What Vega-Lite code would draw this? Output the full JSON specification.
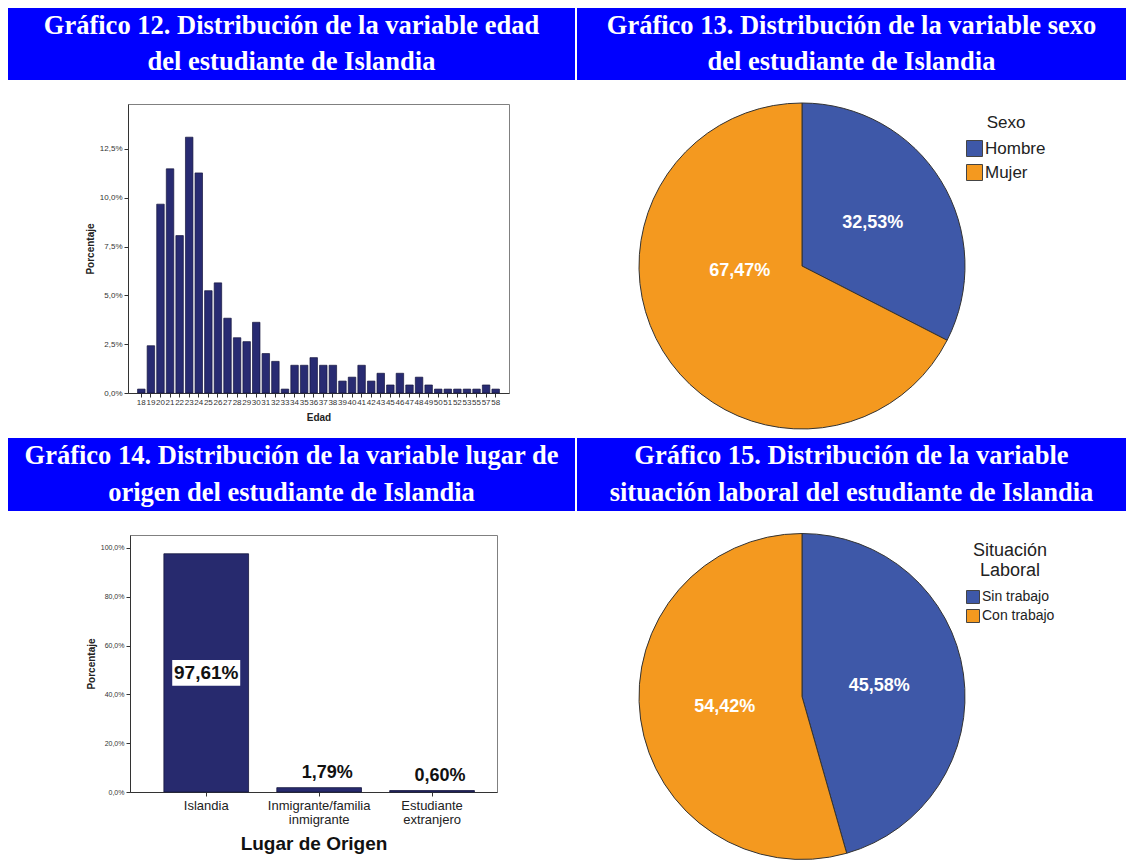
{
  "$schema": "https://vega.github.io/schema/vega-lite/v6.json",
  "background": "white",
  "padding": {"left": 8, "top": 8, "right": 0, "bottom": 0},
  "spacing": 1,
  "resolve": {"scale": {"color": "independent", "theta": "independent"}, "legend": {"color": "independent"}},
  "config": {"font": "Liberation Sans", "view": {"stroke": null}, "axis": {"grid": false}, "legend": {"padding": 0}},
  "vconcat": [
    {
      "spacing": 2,
      "resolve": {"scale": {"color": "independent", "theta": "independent"}, "legend": {"color": "independent"}},
      "hconcat": [
        {
          "spacing": 23,
          "vconcat": [
            {
              "width": 567, "height": 72,
              "view": {"fill": "#0000FF", "stroke": null},
              "data": {"values": [
                {"linea": 1, "texto": "Gráfico 12. Distribución de la variable edad"},
                {"linea": 2, "texto": "del estudiante de Islandia"}
              ]},
              "mark": {"type": "text", "font": "Liberation Serif", "fontSize": 26.5, "fontWeight": "bold", "fill": "white", "baseline": "middle"},
              "encoding": {"y": {"field": "linea", "type": "ordinal", "axis": null}, "text": {"field": "texto"}}
            },
            {
              "spacing": 0,
              "hconcat": [
                {"width": 76, "height": 10, "data": {"values": []}, "mark": {"type": "text"}},
                {
                  "width": 381, "height": 289,
                  "view": {"fill": "white", "stroke": "#808080", "strokeWidth": 1},
                  "data": {"values": [
                    {"edad": 18, "pct": 0.2}, {"edad": 19, "pct": 2.42}, {"edad": 20, "pct": 9.67}, {"edad": 21, "pct": 11.48},
                    {"edad": 22, "pct": 8.06}, {"edad": 23, "pct": 13.1}, {"edad": 24, "pct": 11.27}, {"edad": 25, "pct": 5.24},
                    {"edad": 26, "pct": 5.64}, {"edad": 27, "pct": 3.83}, {"edad": 28, "pct": 2.83}, {"edad": 29, "pct": 2.63},
                    {"edad": 30, "pct": 3.62}, {"edad": 31, "pct": 2.02}, {"edad": 32, "pct": 1.62}, {"edad": 33, "pct": 0.2},
                    {"edad": 34, "pct": 1.42}, {"edad": 35, "pct": 1.42}, {"edad": 36, "pct": 1.81}, {"edad": 37, "pct": 1.42},
                    {"edad": 38, "pct": 1.42}, {"edad": 39, "pct": 0.61}, {"edad": 40, "pct": 0.81}, {"edad": 41, "pct": 1.42},
                    {"edad": 42, "pct": 0.61}, {"edad": 43, "pct": 1.01}, {"edad": 45, "pct": 0.41}, {"edad": 46, "pct": 1.01},
                    {"edad": 47, "pct": 0.41}, {"edad": 48, "pct": 0.81}, {"edad": 49, "pct": 0.41}, {"edad": 50, "pct": 0.2},
                    {"edad": 51, "pct": 0.2}, {"edad": 52, "pct": 0.2}, {"edad": 53, "pct": 0.2}, {"edad": 55, "pct": 0.2},
                    {"edad": 57, "pct": 0.41}, {"edad": 58, "pct": 0.2}
                  ]},
                  "mark": {"type": "bar", "color": "#282B72", "stroke": "#15163d", "strokeWidth": 0.7},
                  "encoding": {
                    "x": {"field": "edad", "type": "ordinal",
                      "scale": {"paddingInner": 0.22, "paddingOuter": 2.28},
                      "axis": {"title": "Edad", "titleFontSize": 10, "titleFontWeight": "bold", "titleColor": "#222", "titlePadding": 6,
                        "labelFontSize": 8, "labelAngle": 0, "labelOverlap": false, "labelColor": "#333", "labelPadding": 1,
                        "tickSize": 4, "tickColor": "#333", "domainColor": "#333"}},
                    "y": {"field": "pct", "type": "quantitative",
                      "scale": {"domain": [0, 14.8], "nice": false},
                      "axis": {"title": "Porcentaje", "titleFontSize": 10, "titleFontWeight": "bold", "titleColor": "#222", "titlePadding": 4,
                        "values": [0, 2.5, 5, 7.5, 10, 12.5],
                        "labelExpr": "replace(format(datum.value, '.1f'), '.', ',') + '%'",
                        "labelFontSize": 8, "labelColor": "#333", "tickSize": 4, "tickColor": "#333", "domainColor": "#333"}}
                  }
                }
              ]
            }
          ]
        },
        {
          "spacing": 15,
          "vconcat": [
            {
              "width": 549, "height": 72,
              "view": {"fill": "#0000FF", "stroke": null},
              "data": {"values": [
                {"linea": 1, "texto": "Gráfico 13. Distribución de la variable sexo"},
                {"linea": 2, "texto": "del estudiante de Islandia"}
              ]},
              "mark": {"type": "text", "font": "Liberation Serif", "fontSize": 26.5, "fontWeight": "bold", "fill": "white", "baseline": "middle"},
              "encoding": {"y": {"field": "linea", "type": "ordinal", "axis": null}, "text": {"field": "texto"}}
            },
            {
              "width": 450, "height": 342,
              "data": {"values": [
                {"sexo": "Hombre", "pct": 32.53, "etiqueta": "32,53%", "orden": 1},
                {"sexo": "Mujer", "pct": 67.47, "etiqueta": "67,47%", "orden": 2}
              ]},
              "encoding": {
                "theta": {"field": "pct", "type": "quantitative", "stack": true},
                "order": {"field": "orden", "type": "quantitative"}
              },
              "layer": [
                {
                  "mark": {"type": "arc", "outerRadius": 163, "stroke": "#333333", "strokeWidth": 1},
                  "encoding": {
                    "color": {"field": "sexo", "type": "nominal",
                      "scale": {"domain": ["Hombre", "Mujer"], "range": ["#3E58A8", "#F4991F"]},
                      "legend": {"title": "Sexo", "orient": "none", "legendX": 389, "legendY": 107,
                        "titleFontSize": 17, "titleFontWeight": "normal", "titleColor": "#222", "titleAnchor": "middle", "titlePadding": 8,
                        "labelFontSize": 17, "labelColor": "#222", "labelOffset": 2,
                        "symbolType": "square", "symbolSize": 256, "symbolStrokeColor": "#444", "symbolStrokeWidth": 1, "rowPadding": 3}}
                  }
                },
                {
                  "mark": {"type": "text", "radius": 83, "fill": "white", "fontSize": 18, "fontWeight": "bold"},
                  "encoding": {
                    "text": {"condition": {"test": "datum.sexo == 'Hombre'", "field": "etiqueta"}, "value": ""},
                    "detail": {"field": "sexo"}}
                },
                {
                  "mark": {"type": "text", "radius": 80, "fill": "white", "fontSize": 18, "fontWeight": "bold", "dx": 6, "dy": -37},
                  "encoding": {
                    "text": {"condition": {"test": "datum.sexo == 'Mujer'", "field": "etiqueta"}, "value": ""},
                    "detail": {"field": "sexo"}}
                }
              ]
            }
          ]
        }
      ]
    },
    {
      "spacing": 2,
      "resolve": {"scale": {"color": "independent", "theta": "independent"}, "legend": {"color": "independent"}},
      "hconcat": [
        {
          "spacing": 23,
          "vconcat": [
            {
              "width": 567, "height": 73,
              "view": {"fill": "#0000FF", "stroke": null},
              "data": {"values": [
                {"linea": 1, "texto": "Gráfico 14. Distribución de la variable lugar de"},
                {"linea": 2, "texto": "origen del estudiante de Islandia"}
              ]},
              "mark": {"type": "text", "font": "Liberation Serif", "fontSize": 26.5, "fontWeight": "bold", "fill": "white", "baseline": "middle"},
              "encoding": {"y": {"field": "linea", "type": "ordinal", "axis": null}, "text": {"field": "texto"}}
            },
            {
              "spacing": 0,
              "hconcat": [
                {"width": 77, "height": 10, "data": {"values": []}, "mark": {"type": "text"}},
                {
                  "width": 367, "height": 257,
                  "view": {"fill": "white", "stroke": "#808080", "strokeWidth": 1},
                  "data": {"values": [
                    {"origen": "Islandia", "pct": 97.61, "etiqueta": "97,61%"},
                    {"origen": "Inmigrante/familia inmigrante", "pct": 1.79, "etiqueta": "1,79%"},
                    {"origen": "Estudiante extranjero", "pct": 0.60, "etiqueta": "0,60%"}
                  ]},
                  "encoding": {
                    "x": {"field": "origen", "type": "nominal", "sort": null,
                      "scale": {"paddingInner": 0.25, "paddingOuter": 0.25, "align": 0.6},
                      "axis": {"title": "Lugar de Origen", "titleFontSize": 19, "titleFontWeight": "bold", "titleColor": "#111", "titlePadding": 8,
                        "labelExpr": "split(datum.label, ' ')", "labelFontSize": 13, "labelLineHeight": 14, "labelAngle": 0,
                        "labelColor": "#222", "labelPadding": 3, "tickSize": 4, "tickColor": "#333", "domainColor": "#333"}},
                    "y": {"field": "pct", "type": "quantitative", "stack": "zero",
                      "scale": {"domain": [0, 105.3], "nice": false},
                      "axis": {"title": "Porcentaje", "titleFontSize": 10, "titleFontWeight": "bold", "titleColor": "#222", "titlePadding": 4,
                        "values": [0, 20, 40, 60, 80, 100],
                        "labelExpr": "replace(format(datum.value, '.1f'), '.', ',') + '%'",
                        "labelFontSize": 7, "labelColor": "#333", "tickSize": 4, "tickColor": "#333", "domainColor": "#333"}}
                  },
                  "layer": [
                    {"mark": {"type": "bar", "color": "#272A6E", "stroke": "#15163d", "strokeWidth": 0.8}},
                    {
                      "transform": [{"filter": "datum.origen == 'Islandia'"}],
                      "mark": {"type": "point", "shape": "M-1,-0.38H1V0.38H-1Z", "size": 4624, "filled": true, "fill": "white", "opacity": 1, "strokeWidth": 0},
                      "encoding": {"y": {"field": "pct", "type": "quantitative", "stack": "zero", "bandPosition": 0.5}}
                    },
                    {
                      "transform": [{"filter": "datum.origen == 'Islandia'"}],
                      "mark": {"type": "text", "fontSize": 19, "fontWeight": "bold", "fill": "#111", "baseline": "middle"},
                      "encoding": {"y": {"field": "pct", "type": "quantitative", "stack": "zero", "bandPosition": 0.5}, "text": {"field": "etiqueta"}}
                    },
                    {
                      "transform": [{"filter": "datum.origen != 'Islandia'"}],
                      "mark": {"type": "text", "fontSize": 18, "fontWeight": "bold", "fill": "#111", "baseline": "bottom", "dy": -6, "dx": 8},
                      "encoding": {"text": {"field": "etiqueta"}}
                    }
                  ]
                }
              ]
            }
          ]
        },
        {
          "spacing": 20,
          "vconcat": [
            {
              "width": 549, "height": 73,
              "view": {"fill": "#0000FF", "stroke": null},
              "data": {"values": [
                {"linea": 1, "texto": "Gráfico 15. Distribución de la variable"},
                {"linea": 2, "texto": "situación laboral del estudiante de Islandia"}
              ]},
              "mark": {"type": "text", "font": "Liberation Serif", "fontSize": 26.5, "fontWeight": "bold", "fill": "white", "baseline": "middle"},
              "encoding": {"y": {"field": "linea", "type": "ordinal", "axis": null}, "text": {"field": "texto"}}
            },
            {
              "width": 450, "height": 331,
              "data": {"values": [
                {"situacion": "Sin trabajo", "pct": 45.58, "etiqueta": "45,58%", "orden": 1},
                {"situacion": "Con trabajo", "pct": 54.42, "etiqueta": "54,42%", "orden": 2}
              ]},
              "encoding": {
                "theta": {"field": "pct", "type": "quantitative", "stack": true},
                "order": {"field": "orden", "type": "quantitative"}
              },
              "layer": [
                {
                  "mark": {"type": "arc", "outerRadius": 163, "stroke": "#333333", "strokeWidth": 1},
                  "encoding": {
                    "color": {"field": "situacion", "type": "nominal",
                      "scale": {"domain": ["Sin trabajo", "Con trabajo"], "range": ["#3E58A8", "#F4991F"]},
                      "legend": {"title": ["Situación", "Laboral"], "orient": "none", "legendX": 389, "legendY": 104,
                        "titleFontSize": 18, "titleFontWeight": "normal", "titleColor": "#222", "titleAnchor": "middle", "titleLineHeight": 20, "titlePadding": 10,
                        "labelFontSize": 14, "labelColor": "#222", "labelOffset": 2,
                        "symbolType": "square", "symbolSize": 169, "symbolStrokeColor": "#444", "symbolStrokeWidth": 1, "rowPadding": 1}}
                  }
                },
                {
                  "mark": {"type": "text", "radius": 78, "fill": "white", "fontSize": 18, "fontWeight": "bold"},
                  "encoding": {"text": {"field": "etiqueta"}, "detail": {"field": "situacion"}}
                }
              ]
            }
          ]
        }
      ]
    }
  ]
}
